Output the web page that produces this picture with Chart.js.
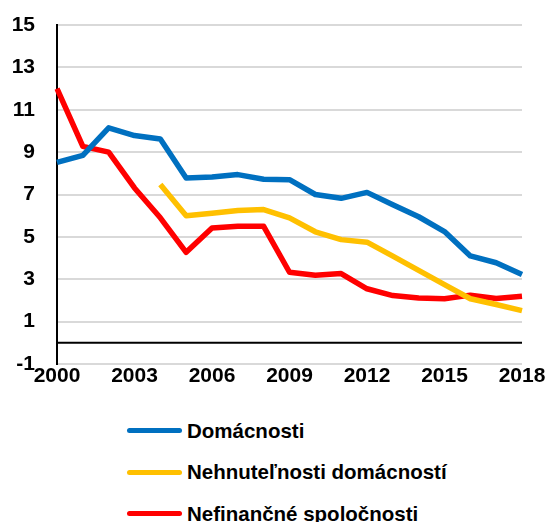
<!DOCTYPE html>
<html>
<head>
<meta charset="utf-8">
<script src="https://cdn.jsdelivr.net/npm/chart.js@4/dist/chart.umd.min.js"></script>
<style>
    html, body { margin: 0; padding: 0; background: #fff; }
    #wrap { position: relative; width: 546px; height: 522px; overflow: hidden; }
    #chart-box { position: absolute; left: 0; top: 0; width: 546px; height: 390px; }
    #legend { position: absolute; left: 127px; top: 410px; margin: 0; padding: 0; list-style: none; }
    #legend li { height: 41.5px; display: flex; align-items: center; font: bold 20.5px "Liberation Sans", Arial, sans-serif; color: #000; white-space: nowrap; }
    #legend .swatch { display: inline-block; width: 55px; height: 5px; border-radius: 3px; margin-right: 5px; }
</style>
</head>
<body>
<div id="wrap">
    <div id="chart-box"><canvas id="rates-chart"></canvas></div>
    <ul id="legend"></ul>
</div>
<script>
// JavaScript
const years = ['2000', '2001', '2002', '2003', '2004', '2005', '2006', '2007', '2008', '2009',
    '2010', '2011', '2012', '2013', '2014', '2015', '2016', '2017', '2018'];
const householdValues = [8.52, 8.85, 10.15, 9.78, 9.62, 7.78, 7.83, 7.94, 7.72, 7.7,
    7.0, 6.82, 7.1, 6.52, 5.95, 5.25, 4.1, 3.78, 3.22];
const housingValues = [null, null, null, null, 7.47, 6.0, 6.12, 6.25, 6.29, 5.9,
    5.24, 4.87, 4.75, 4.09, 3.42, 2.75, 2.08, 1.81, 1.52];
const corporateValues = [12.0, 9.27, 9.0, 7.31, 5.9, 4.27, 5.42, 5.5, 5.5, 3.33,
    3.19, 3.27, 2.55, 2.23, 2.12, 2.08, 2.25, 2.09, 2.2];
const seriesNames = ['Domácnosti', 'Nehnuteľnosti domácností', 'Nefinančné spoločnosti'];
const seriesColors = ['#0070C0', '#FFC000', '#FF0000'];
const yTicks = [-1, 1, 3, 5, 7, 9, 11, 13, 15];

const tickFont = { family: '"Liberation Sans", Arial, sans-serif', size: 21, weight: 'bold' };

// black line at zero
const zeroLine = {
    id: 'zeroLine',
    beforeDatasetsDraw(chart) {
        const { ctx, chartArea, scales } = chart;
        const y = scales.y.getPixelForValue(0);
        ctx.save();
        ctx.strokeStyle = '#000';
        ctx.lineWidth = 2;
        ctx.beginPath();
        ctx.moveTo(chartArea.left, y);
        ctx.lineTo(chartArea.right, y);
        ctx.stroke();
        ctx.restore();
    }
};

function buildChart() {
    const ctx = document.getElementById('rates-chart').getContext('2d');
    const seriesData = [householdValues, housingValues, corporateValues];
    const chart = new Chart(ctx, {
        type: 'line',
        data: {
            labels: years,
            datasets: seriesData.map((values, i) => ({
                label: seriesNames[i],
                data: values,
                borderColor: seriesColors[i],
                backgroundColor: seriesColors[i],
                borderWidth: 5.5,
                borderJoinStyle: 'round',
                pointRadius: 0,
                tension: 0,
                spanGaps: false
            }))
        },
        options: {
            responsive: true,
            maintainAspectRatio: false,
            animation: false,
            layout: { padding: { top: 25, right: 24, left: 0, bottom: 0 } },
            plugins: { legend: { display: false }, tooltip: { enabled: false } },
            scales: {
                x: {
                    offset: false,
                    grid: { display: false, drawTicks: false },
                    border: { display: false },
                    ticks: {
                        autoSkip: false,
                        maxRotation: 0,
                        padding: 0,
                        color: '#000',
                        font: tickFont,
                        callback: (value, index) => (index % 3 === 0 ? years[index] : '')
                    },
                    afterFit: scale => { scale.height = 26; }
                },
                y: {
                    min: -1,
                    max: 15,
                    afterBuildTicks: scale => { scale.ticks = yTicks.map(v => ({ value: v })); },
                    grid: { color: '#D9D9D9', lineWidth: 2, drawTicks: false },
                    border: { display: true, color: '#000', width: 2 },
                    ticks: { padding: 22, color: '#000', font: tickFont },
                    afterFit: scale => {
                        scale.width = 57;
                        // keep label padding from shrinking the plot area
                        scale.paddingTop = 0;
                        scale.paddingBottom = 0;
                    }
                }
            }
        },
        plugins: [zeroLine]
    });
    renderLegend(chart);
}

function renderLegend(chart) {
    const legendHtml = chart.data.datasets.map(ds => `
        <li><span class="swatch" style="background:${ds.borderColor}"></span>${ds.label}</li>
    `).join('');
    document.getElementById('legend').innerHTML = legendHtml;
}

document.addEventListener('DOMContentLoaded', buildChart);
</script>
</body>
</html>
